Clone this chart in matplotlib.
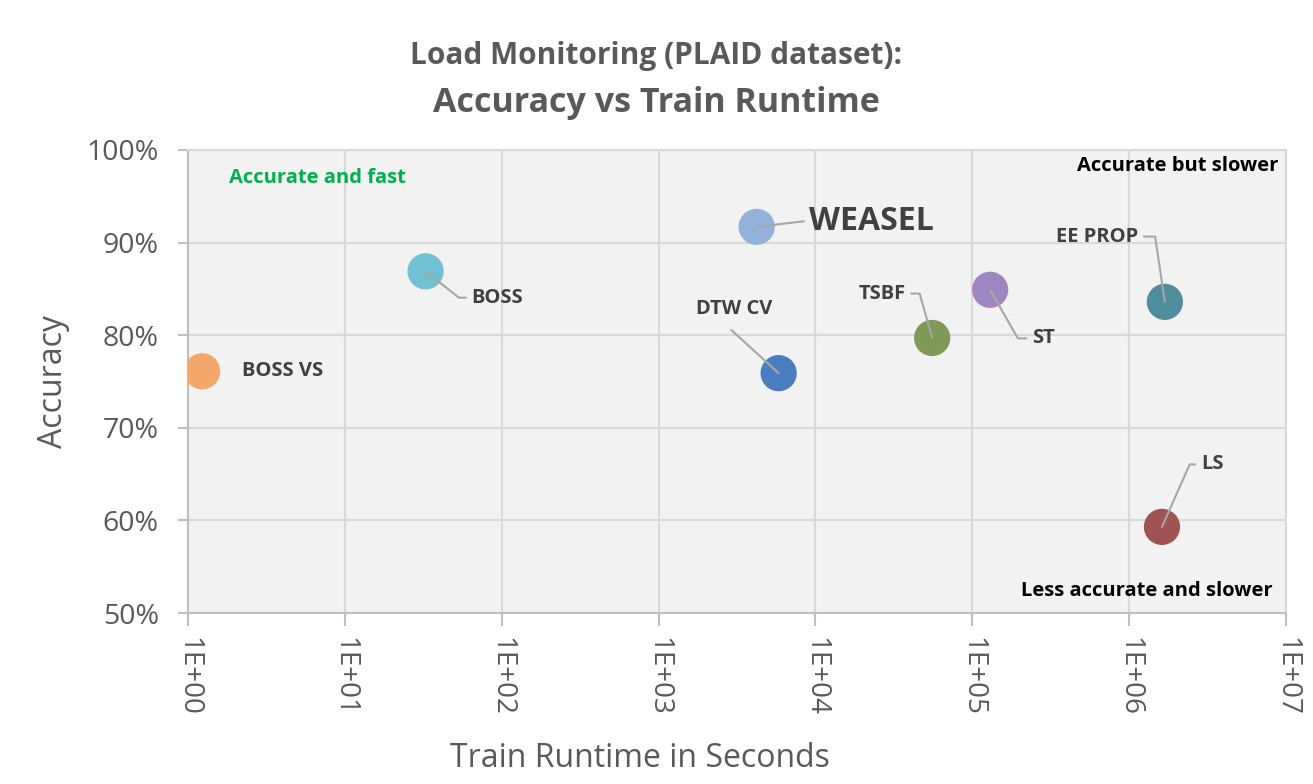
import numpy as np
import matplotlib.pyplot as plt
from matplotlib.ticker import FuncFormatter, FixedLocator

# Data
methods = ["BOSS VS", "BOSS", "WEASEL", "DTW CV", "TSBF", "ST", "EE PROP", "LS"]
runtime_s = [1.23, 32.7, 4220, 5830, 55500, 130000, 1.69e6, 1.62e6]
accuracy = [0.761, 0.869, 0.917, 0.759, 0.797, 0.849, 0.836, 0.593]
colors = ["#F4A76A", "#6FC1D3", "#93B2DA", "#4A7DC0", "#7F9A57",
          "#9E87C0", "#4F8C9C", "#A05353"]

# label offsets in points (dx, dy), elbow of the leader line, alignment
label_style = {
    "BOSS VS": dict(off=(29, 0), ha="left", elbow=None),
    "BOSS": dict(off=(33, -19), ha="left", elbow=(24, -19)),
    "WEASEL": dict(off=(38, 4), ha="left", elbow=(34, 4)),
    "DTW CV": dict(off=(-32, 46), ha="center", elbow=(-34, 31)),
    "TSBF": dict(off=(-19, 32), ha="right", elbow=(-9, 32)),
    "ST": dict(off=(30, -35), ha="left", elbow=(20, -35)),
    "EE PROP": dict(off=(-19, 47), ha="right", elbow=(-7, 47)),
    "LS": dict(off=(28, 45), ha="left", elbow=(20, 45)),
}

fig = plt.figure(figsize=(13.13, 7.84), dpi=100)
ax = fig.add_axes([0.1432, 0.2181, 0.8362, 0.5906])
ax.set_facecolor("#F2F2F2")

ax.set_xscale("log")
ax.set_xlim(1, 1e7)
ax.set_ylim(0.5, 1.0)

ax.xaxis.set_major_locator(FixedLocator([10.0 ** k for k in range(8)]))
ax.xaxis.set_minor_locator(FixedLocator([]))
ax.xaxis.set_major_formatter(FuncFormatter(lambda v, p: "1E+%02d" % int(round(np.log10(v)))))
ax.yaxis.set_major_locator(FixedLocator(np.arange(0.5, 1.01, 0.1)))
ax.yaxis.set_major_formatter(FuncFormatter(lambda v, p: "%d%%" % round(v * 100)))

ax.grid(True, color="#D9D9D9", linewidth=1.5)
ax.set_axisbelow(True)
for side in ["top", "right"]:
    ax.spines[side].set_color("#D9D9D9")
    ax.spines[side].set_linewidth(1.5)
for side in ["left", "bottom"]:
    ax.spines[side].set_color("#BFBFBF")
    ax.spines[side].set_linewidth(1.5)

ax.tick_params(axis="y", length=7, width=1.5, color="#BFBFBF",
               labelsize=20.5, labelcolor="#595959", pad=14)
ax.tick_params(axis="x", length=9, width=1.5, color="#BFBFBF",
               labelsize=20, labelcolor="#595959", pad=8, labelrotation=-90)
for lbl in ax.get_yticklabels() + ax.get_xticklabels():
    lbl.set_family("Open Sans")

ax.set_ylabel("Accuracy", fontsize=23, color="#595959", family="Open Sans", labelpad=12)
ax.set_xlabel("Train Runtime in Seconds", fontsize=23, color="#595959",
              family="Open Sans")
ax.xaxis.set_label_coords(0.412, -0.278)

ax.scatter(runtime_s, accuracy, s=680, c=colors, edgecolors="none", zorder=3)

for name, x, y in zip(methods, runtime_s, accuracy):
    st = label_style[name]
    fs = 23 if name == "WEASEL" else 14.5
    ax.annotate(name, xy=(x, y), xytext=st["off"], textcoords="offset points",
                ha=st["ha"], va="center", fontsize=fs, fontweight="bold",
                color="#404040", family="Open Sans", zorder=4)
    if st["elbow"] is None:
        continue
    ex, ey = st["elbow"]
    if st["ha"] == "center":
        start = (ex, ey)
        conn = "arc3"
    else:
        # short horizontal piece next to the text, then straight to the point
        tx = st["off"][0] - 4 if st["ha"] == "left" else st["off"][0] + 4
        start = (tx, ey)
        conn = "angle,angleA=0,angleB=%f,rad=0" % np.degrees(np.arctan2(ey, ex))
    ax.annotate("", xy=(x, y), xytext=start, textcoords="offset points",
                arrowprops=dict(arrowstyle="-", color="#A6A6A6", lw=1.5,
                                shrinkA=0, shrinkB=0, connectionstyle=conn),
                zorder=4)

# quadrant notes
ax.text(0.037, 0.94, "Accurate and fast", transform=ax.transAxes, color="#00B050",
        fontsize=14.5, fontweight="bold", family="Open Sans", ha="left", va="center")
ax.text(0.993, 0.965, "Accurate but slower", transform=ax.transAxes, color="black",
        fontsize=14.5, fontweight="bold", family="Open Sans", ha="right", va="center")
ax.text(0.988, 0.048, "Less accurate and slower", transform=ax.transAxes, color="black",
        fontsize=14.5, fontweight="bold", family="Open Sans", ha="right", va="center")

fig.text(0.5, 0.928, "Load Monitoring (PLAID dataset):", ha="center", va="center",
         fontsize=21.5, fontweight="bold", color="#595959", family="Open Sans")
fig.text(0.5, 0.868, "Accuracy vs Train Runtime", ha="center", va="center",
         fontsize=24.5, fontweight="bold", color="#595959", family="Open Sans")

fig.savefig("out.png", dpi=100)
